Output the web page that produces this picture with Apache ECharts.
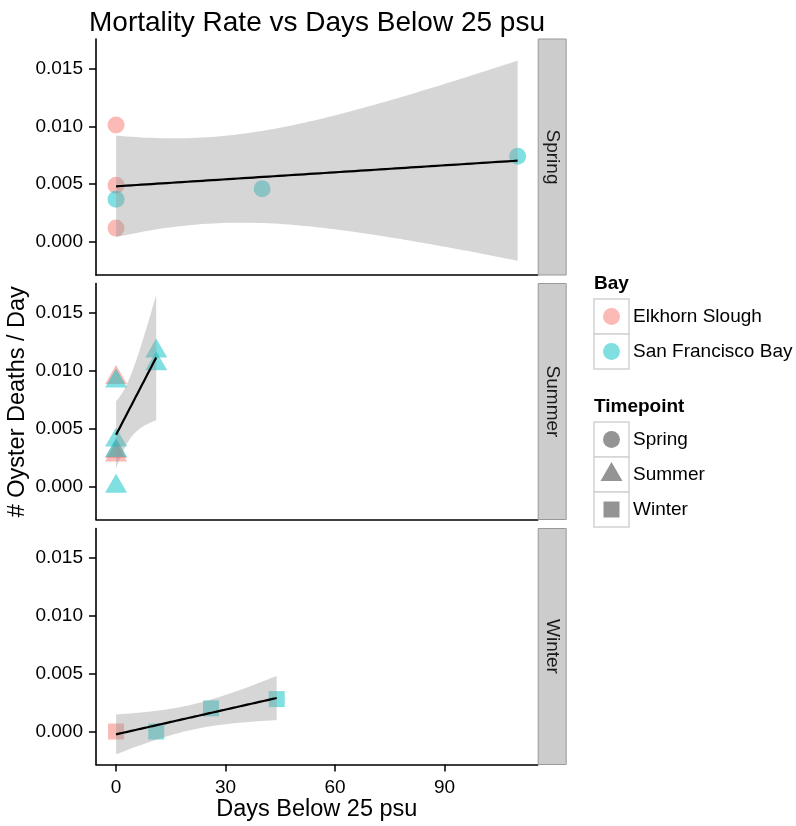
<!DOCTYPE html>
<html>
<head>
<meta charset="utf-8">
<title>Mortality Rate vs Days Below 25 psu</title>
<script src="https://cdn.jsdelivr.net/npm/echarts@6/dist/echarts.min.js"></script>
<style>
  html, body { margin: 0; padding: 0; background: #fff; }
  #chart { width: 796px; height: 826px; }
</style>
</head>
<body>
<div id="chart"></div>
<script>
// ---- data: one set of arrays per sampling timepoint ----
const springDays = [0, 0, 0, 0, 40, 110];
const springRate = [0.0101, 0.0049, 0.0037, 0.0012, 0.0046, 0.0074];
const springBay  = ['Elkhorn Slough', 'Elkhorn Slough', 'San Francisco Bay', 'Elkhorn Slough', 'San Francisco Bay', 'San Francisco Bay'];

const summerDays = [0, 0, 0, 0, 0, 0, 0, 11, 11];
const summerRate = [0.0094, 0.0091, 0.0040, 0.0031, 0.0030, 0.0027, 0.0000, 0.0117, 0.0106];
const summerBay  = ['Elkhorn Slough', 'San Francisco Bay', 'San Francisco Bay', 'San Francisco Bay', 'Elkhorn Slough', 'Elkhorn Slough', 'San Francisco Bay', 'San Francisco Bay', 'San Francisco Bay'];

const winterDays = [0, 11, 26, 44];
const winterRate = [0.0000, 0.0000, 0.0020, 0.0028];
const winterBay  = ['Elkhorn Slough', 'San Francisco Bay', 'San Francisco Bay', 'San Francisco Bay'];

const bays = ['Elkhorn Slough', 'San Francisco Bay'];
const timepoints = ['Spring', 'Summer', 'Winter'];
const xTicks = [0, 30, 60, 90];
const yTicks = [0, 0.005, 0.010, 0.015];

// ---- styling ----
const bayColor = { 'Elkhorn Slough': '#F8766D', 'San Francisco Bay': '#00BFC4' };
const pointAlpha = 0.5;
const shapeOf = {
  Spring: { symbol: 'circle', size: 17, offset: [0, 0] },
  Summer: { symbol: 'triangle', size: [22, 19], offset: [0, -3.2] },
  Winter: { symbol: 'rect', size: 16, offset: [0, 0] }
};
const FONT = '"Liberation Sans", Arial, Helvetica, sans-serif';

// two-sided 95% t quantiles by residual degrees of freedom
const T95 = { 1: 12.7062, 2: 4.302653, 3: 3.182446, 4: 2.776445, 5: 2.570582, 6: 2.446912, 7: 2.364624, 8: 2.306004, 9: 2.262157, 10: 2.228139 };

// ordinary least squares fit with a 95% confidence band, sampled over the data range
function lmBand(xs, ys, nOut) {
  const n = xs.length;
  const xm = xs.reduce((a, b) => a + b, 0) / n;
  const ym = ys.reduce((a, b) => a + b, 0) / n;
  let sxx = 0, sxy = 0;
  for (let i = 0; i < n; i++) { sxx += (xs[i] - xm) ** 2; sxy += (xs[i] - xm) * (ys[i] - ym); }
  const b = sxy / sxx, a = ym - b * xm;
  let sse = 0;
  for (let i = 0; i < n; i++) sse += (ys[i] - (a + b * xs[i])) ** 2;
  const s = Math.sqrt(sse / (n - 2));
  const t = T95[n - 2];
  const lo = Math.min(...xs), hi = Math.max(...xs);
  const fit = [], upper = [], lower = [];
  for (let k = 0; k < nOut; k++) {
    const x = lo + (hi - lo) * k / (nOut - 1);
    const f = a + b * x;
    const hw = t * s * Math.sqrt(1 / n + (x - xm) ** 2 / sxx);
    fit.push([x, f]); upper.push([x, f + hw]); lower.push([x, f - hw]);
  }
  return { fit, upper, lower };
}

const panels = [
  { name: 'Spring', days: springDays, rate: springRate, bay: springBay },
  { name: 'Summer', days: summerDays, rate: summerRate, bay: summerBay },
  { name: 'Winter', days: winterDays, rate: winterRate, bay: winterBay }
];

// ---- layout of the three stacked facets ----
const plotLeft = 96, plotRight = 537.7, panelH = 236;
const panelTops = [39, 283.5, 528.5];
const stripW = 28;

const grids = [], xAxes = [], yAxes = [], series = [], graphics = [];

panels.forEach((p, i) => {
  const isBottom = i === panels.length - 1;
  grids.push({ left: plotLeft, top: panelTops[i], width: plotRight - plotLeft, height: panelH, containLabel: false });
  xAxes.push({
    gridIndex: i, type: 'value', min: -5.5, max: 115.5,
    splitLine: { show: false },
    axisLine: { show: true, onZero: false, lineStyle: { color: '#000', width: 1.6 } },
    axisTick: { show: isBottom, customValues: xTicks, length: 7, lineStyle: { color: '#000', width: 1.5 } },
    axisLabel: { show: isBottom, customValues: xTicks, margin: 14, color: '#000', fontSize: 19, fontFamily: FONT }
  });
  yAxes.push({
    gridIndex: i, type: 'value', min: -0.00285, max: 0.01754,
    splitLine: { show: false },
    axisLine: { show: true, onZero: false, lineStyle: { color: '#000', width: 1.6 } },
    axisTick: { show: true, customValues: yTicks, length: 7, lineStyle: { color: '#000', width: 1.5 } },
    axisLabel: { customValues: yTicks, margin: 13, color: '#000', fontSize: 19, fontFamily: FONT,
                 formatter: v => v.toFixed(3) }
  });

  // points, one series per bay
  const shp = shapeOf[p.name];
  bays.forEach(b => {
    const pts = [];
    p.days.forEach((d, k) => { if (p.bay[k] === b) pts.push([d, p.rate[k]]); });
    series.push({
      type: 'scatter', xAxisIndex: i, yAxisIndex: i, z: 2,
      symbol: shp.symbol, symbolSize: shp.size, symbolOffset: shp.offset,
      itemStyle: { color: bayColor[b], opacity: pointAlpha },
      emphasis: { disabled: true },
      data: pts
    });
  });

  // linear fit with confidence band
  const band = lmBand(p.days, p.rate, 80);
  series.push({
    type: 'custom', xAxisIndex: i, yAxisIndex: i, z: 3, silent: true,
    data: [band.fit[0]],
    renderItem: (params, api) => {
      const poly = band.upper.map(q => api.coord(q))
        .concat(band.lower.slice().reverse().map(q => api.coord(q)));
      return { type: 'polygon', shape: { points: poly }, style: { fill: 'rgba(153,153,153,0.4)' } };
    }
  });
  series.push({
    type: 'line', xAxisIndex: i, yAxisIndex: i, z: 4, silent: true,
    showSymbol: false, symbol: 'none',
    lineStyle: { color: '#000', width: 2.2 },
    data: band.fit
  });

  // facet strip on the right
  graphics.push({
    type: 'rect', shape: { x: plotRight + 0.5, y: panelTops[i], width: stripW, height: panelH },
    style: { fill: '#CCCCCC', stroke: '#999999', lineWidth: 1 }, z: 10
  });
  graphics.push({
    type: 'text', x: plotRight + 0.5 + stripW / 2, y: panelTops[i] + panelH / 2, rotation: -Math.PI / 2,
    style: { text: p.name, fill: '#1a1a1a', font: '19px ' + FONT, align: 'center', verticalAlign: 'middle' }, z: 11
  });
});

// axis titles
graphics.push({
  type: 'text', x: 18, y: (panelTops[0] + panelTops[2] + panelH) / 2, rotation: Math.PI / 2,
  style: { text: '# Oyster Deaths / Day', fill: '#000', font: '23.5px ' + FONT, align: 'center', verticalAlign: 'middle' }
});
graphics.push({
  type: 'text', x: (plotLeft + plotRight) / 2, y: 810,
  style: { text: 'Days Below 25 psu', fill: '#000', font: '23.5px ' + FONT, align: 'center', verticalAlign: 'middle' }
});

// legends: Bay (colour) and Timepoint (shape)
const keyX = 594, keyW = 35, keyH = 35, labelX = 633;
function legendBlock(title, titleY, entries) {
  graphics.push({
    type: 'text', x: keyX, y: titleY,
    style: { text: title, fill: '#000', font: 'bold 19px ' + FONT, align: 'left', verticalAlign: 'middle' }
  });
  entries.forEach((e, k) => {
    const top = titleY + 15 + k * keyH;
    graphics.push({
      type: 'rect', shape: { x: keyX, y: top, width: keyW, height: keyH },
      style: { fill: '#fff', stroke: '#D2D2D2', lineWidth: 1.5 }
    });
    const cx = keyX + keyW / 2, cy = top + keyH / 2;
    let shape;
    if (e.symbol === 'circle') shape = { type: 'circle', shape: { cx, cy, r: 8.5 } };
    else if (e.symbol === 'triangle') shape = { type: 'polygon', shape: { points: [[cx, cy - 12.5], [cx + 11, cy + 6.5], [cx - 11, cy + 6.5]] } };
    else shape = { type: 'rect', shape: { x: cx - 8, y: cy - 8, width: 16, height: 16 } };
    shape.style = { fill: e.color, opacity: e.alpha };
    graphics.push(shape);
    graphics.push({
      type: 'text', x: labelX, y: cy,
      style: { text: e.label, fill: '#000', font: '19px ' + FONT, align: 'left', verticalAlign: 'middle' }
    });
  });
}
legendBlock('Bay', 284, bays.map(b => ({ label: b, symbol: 'circle', color: bayColor[b], alpha: pointAlpha })));
legendBlock('Timepoint', 407, timepoints.map(t => ({ label: t, symbol: shapeOf[t].symbol, color: '#000', alpha: 0.42 })));

const chart = echarts.init(document.getElementById('chart'), null, { renderer: 'canvas' });
chart.setOption({
  animation: false,
  backgroundColor: '#fff',
  title: {
    text: 'Mortality Rate vs Days Below 25 psu',
    left: 84, top: 4,
    textStyle: { fontFamily: FONT, fontSize: 28, fontWeight: 'normal', color: '#000' }
  },
  grid: grids,
  xAxis: xAxes,
  yAxis: yAxes,
  series: series,
  graphic: graphics
});
</script>
</body>
</html>
